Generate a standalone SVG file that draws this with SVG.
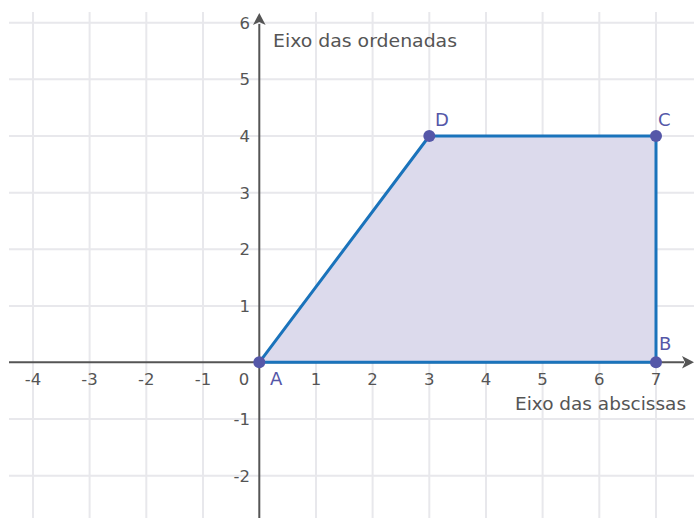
<svg xmlns="http://www.w3.org/2000/svg" width="694" height="518" viewBox="0 0 694 518">
<style>
.grid{stroke:#e8e8ec;stroke-width:2;fill:none}
.axis{stroke:#555;stroke-width:2;fill:none}
.lbl{font-family:"DejaVu Sans","Liberation Sans",sans-serif;font-size:16.5px;fill:#555}
.ttl{font-size:17.5px}
.pt{font-family:"DejaVu Sans","Liberation Sans",sans-serif;font-size:18px;fill:#5557a8}
.dot{fill:#5557a8}
.edge{stroke:#1a73bb;stroke-width:3;fill:none;stroke-linejoin:round}
</style>
<rect width="694" height="518" fill="#fff"/>
<g id="grid">
<path class="grid" d="M33,12V518M89.6,12V518M146.3,12V518M203,12V518M316,12V518M372.6,12V518M429.3,12V518M486,12V518M542.6,12V518M599.3,12V518M656,12V518"/>
<path class="grid" d="M9,22.7H694M9,79.3H694M9,136H694M9,192.7H694M9,249.3H694M9,306H694M9,419H694M9,475.7H694"/>
</g>
<g id="quadrilateral">
<polygon points="259.3,362.3 656,362.3 656,136 429.3,136" fill="#dcdaec"/>
</g>
<g id="axes">
<path class="axis" d="M9,362.3H684"/>
<polygon points="694,362.3 682,356 685,362.3 682,368.6" fill="#555"/>
<path class="axis" d="M259.3,518V24"/>
<polygon points="259.3,13 253,25 259.3,22 265.6,25" fill="#555"/>
</g>
<g id="connectors">
<polyline class="edge" points="259.3,362.3 429.3,136 656,136 656,362.3 259.3,362.3"/>
</g>
<g id="ticks-x" class="lbl" text-anchor="middle">
<text x="33" y="385">-4</text>
<text x="89.6" y="385">-3</text>
<text x="146.3" y="385">-2</text>
<text x="203" y="385">-1</text>
<text x="244" y="385">0</text>
<text x="316" y="385">1</text>
<text x="372.6" y="385">2</text>
<text x="429.3" y="385">3</text>
<text x="486" y="385">4</text>
<text x="542.6" y="385">5</text>
<text x="599.3" y="385">6</text>
<text x="656" y="385">7</text>
</g>
<g id="ticks-y" class="lbl" text-anchor="end">
<text x="250" y="28.5">6</text>
<text x="250" y="85">5</text>
<text x="250" y="142">4</text>
<text x="250" y="198.5">3</text>
<text x="250" y="255">2</text>
<text x="250" y="312">1</text>
<text x="250" y="425">-1</text>
<text x="250" y="481.5">-2</text>
</g>
<g id="axis-titles" class="lbl ttl">
<text x="273" y="47" textLength="184" lengthAdjust="spacingAndGlyphs">Eixo das ordenadas</text>
<text x="515" y="410" textLength="171" lengthAdjust="spacingAndGlyphs">Eixo das abscissas</text>
</g>
<g id="A"><circle class="dot" cx="259.3" cy="362.3" r="6"/><text class="pt" x="270" y="385">A</text></g>
<g id="B"><circle class="dot" cx="656" cy="362.3" r="6"/><text class="pt" x="659" y="350">B</text></g>
<g id="C"><circle class="dot" cx="656" cy="136" r="6"/><text class="pt" x="658" y="126">C</text></g>
<g id="D"><circle class="dot" cx="429.3" cy="136" r="6"/><text class="pt" x="435" y="126">D</text></g>
</svg>
